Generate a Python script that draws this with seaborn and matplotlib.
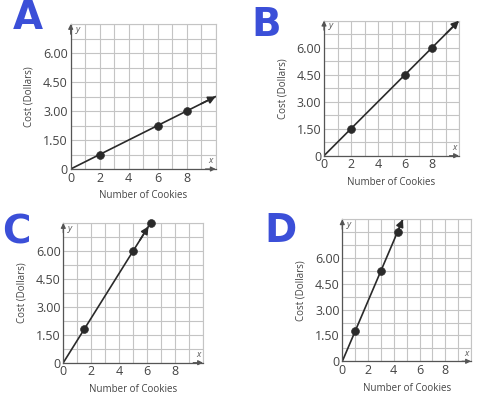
import seaborn as sns
import matplotlib.pyplot as plt
import pandas as pd

# values
panels = ["A", "B", "C", "D"]
cookies = {"A": [2, 6, 8], "B": [2, 6, 8], "C": [1.5, 5, 6.25], "D": [1, 3, 4.3]}
cost = {"A": [0.75, 2.25, 3.0], "B": [1.5, 4.5, 6.0], "C": [1.8, 6.0, 7.5], "D": [1.75, 5.25, 7.5]}
line_end_x = {"A": 10, "B": 10, "C": 6.1, "D": 4.71}
line_end_y = {"A": 3.75, "B": 7.5, "C": 7.32, "D": 8.25}
y_top = {"A": 7.5, "B": 7.5, "C": 7.5, "D": 8.25}
x_ticks = [0, 2, 4, 6, 8]
y_ticks = [0, 1.5, 3.0, 4.5, 6.0]
y_tick_labels = ["0", "1.50", "3.00", "4.50", "6.00"]

sns.set_style("white")
plt.rcParams["font.family"] = ["Open Sans", "DejaVu Sans"]

W, H = 483, 405
fig = plt.figure(figsize=(W / 100, H / 100), dpi=100)

# axes boxes in pixels: left, top, right, bottom
boxes = {"A": (70.7, 24, 215.7, 169),
         "B": (324, 20.7, 459, 155.7),
         "C": (63.3, 223, 203, 362.7),
         "D": (342.3, 219.3, 471, 361.3)}
letter_pos = {"A": (28, 18), "B": (266, 25), "C": (16, 232), "D": (281, 231)}

grid_c = "#c4c4c4"
ink = "#2a2a2a"

for p in panels:
    l, t, r, b = boxes[p]
    ax = fig.add_axes([l / W, 1 - b / H, (r - l) / W, (b - t) / H])
    ax.set_xlim(0, 10)
    ax.set_ylim(0, y_top[p])

    ax.set_xticks(range(0, 11), minor=True)
    n_rows = int(round(y_top[p] / 0.75))
    ax.set_yticks([0.75 * i for i in range(n_rows + 1)], minor=True)
    ax.set_xticks(x_ticks)
    ax.set_yticks(y_ticks)
    ax.set_yticklabels(y_tick_labels)
    ax.grid(which="both", color=grid_c, lw=0.8)
    ax.tick_params(which="both", length=0, labelsize=9, labelcolor="#444444", pad=2)
    ax.set_axisbelow(True)

    for s in ["top", "right"]:
        ax.spines[s].set_color(grid_c)
        ax.spines[s].set_linewidth(0.8)
    for s in ["left", "bottom"]:
        ax.spines[s].set_color("#555555")
        ax.spines[s].set_linewidth(0.9)

    line_df = pd.DataFrame({"x": [0, line_end_x[p]], "y": [0, line_end_y[p]]})
    sns.lineplot(data=line_df, x="x", y="y", ax=ax, color=ink, lw=1.2)
    ax.annotate("", xy=(line_end_x[p], line_end_y[p]),
                xytext=(line_end_x[p] * 0.9, line_end_y[p] * 0.9),
                arrowprops=dict(arrowstyle="-|>", color=ink, lw=1.2,
                                mutation_scale=11, shrinkA=0, shrinkB=0),
                annotation_clip=False)

    pts = pd.DataFrame({"x": cookies[p], "y": cost[p]})
    sns.scatterplot(data=pts, x="x", y="y", ax=ax, color=ink, s=32,
                    edgecolor=ink, zorder=5, clip_on=False)

    # axis arrows with x / y letters
    ax.annotate("", xy=(1.0, 0), xytext=(0.93, 0), xycoords="axes fraction",
                arrowprops=dict(arrowstyle="-|>", color="#555555", lw=0.9,
                                mutation_scale=7, shrinkA=0, shrinkB=0),
                annotation_clip=False)
    ax.annotate("", xy=(0, 1.0), xytext=(0, 0.93), xycoords="axes fraction",
                arrowprops=dict(arrowstyle="-|>", color="#555555", lw=0.9,
                                mutation_scale=7, shrinkA=0, shrinkB=0),
                annotation_clip=False)
    ax.text(0.965, 0.025, "x", transform=ax.transAxes, fontsize=6.5,
            style="italic", color="#555555", ha="center", va="bottom")
    ax.text(0.035, 0.995, "y", transform=ax.transAxes, fontsize=6.5,
            style="italic", color="#555555", ha="left", va="top")

    ax.set_xlabel("Number of Cookies", fontsize=7, color="#444444", labelpad=4)
    ax.set_ylabel("Cost (Dollars)", fontsize=7, color="#444444", labelpad=6)

    lx, ly = letter_pos[p]
    fig.text(lx / W, 1 - ly / H, p, fontsize=28, color="#3b4fd8",
             fontweight="semibold", ha="center", va="center",
             family="DejaVu Sans")

fig.savefig("out.png", dpi=100)
